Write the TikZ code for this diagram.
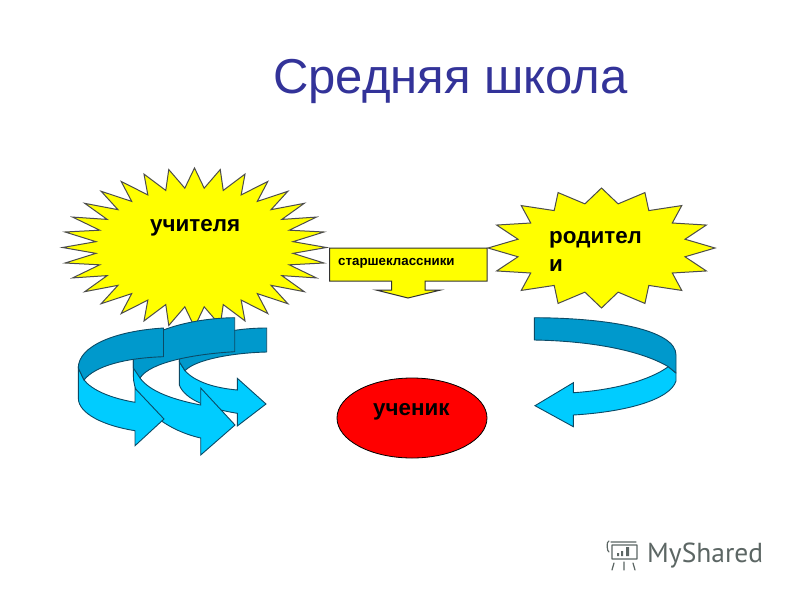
\documentclass[tikz,border=0pt]{standalone}
\usepackage{fontspec}
\usetikzlibrary{shapes.geometric}
\setmainfont{Liberation Sans}
\newfontfamily\markfont{PT Sans}
\definecolor{bandDark}{HTML}{0099CC}
\definecolor{bandLight}{HTML}{00CCFF}
\definecolor{bandLine}{HTML}{0B4A66}
\definecolor{titleBlue}{HTML}{333399}
\definecolor{markGrey}{HTML}{5C6664}
\definecolor{sunYellow}{HTML}{FFFF00}
\tikzset{
  burst/.style={draw=black!70,fill=sunYellow,line width=1pt,line join=miter},
  darkband/.style={draw=bandLine,fill=bandDark,line width=0.9pt,line join=round},
  lightband/.style={draw=bandLine,fill=bandLight,line width=0.9pt,line join=miter},
  boldlabel/.style={font=\bfseries\fontsize{22.4}{27}\selectfont,text=black,inner sep=0pt},
  markline/.style={draw=markGrey,line width=1.2pt,line cap=round,line join=round},
}
% centre x, centre y, radius x, radius y, points, last index (2*points-1)
\newcommand{\burstshape}[6]{%
  \path[burst] plot[samples at={0,...,#6},variable=\k]
    ({#1+#3*(0.875+0.125*cos(180*\k))*sin(180*\k/#5)},
     {#2-#4*(0.875+0.125*cos(180*\k))*cos(180*\k/#5)}) -- cycle;}
\begin{document}
\begin{tikzpicture}[x=1pt,y=-1pt]
\useasboundingbox (0,0) rectangle (800,600);
\fill[white] (0,0) rectangle (800,600);

\node[anchor=base west,inner sep=0pt,text=titleBlue,font=\fontsize{49}{52}\selectfont] (title) at (273,93) {Средняя школа};

\burstshape{194.5}{247.5}{132}{79.5}{32}{63}
\burstshape{601.5}{248}{113.5}{60}{16}{31}

% callout
\draw[burst,draw=black!80] (329.5,248) -- (487,248) -- (487,281) -- (425,281) -- (425,290) -- (440.7,290) -- (408,298) -- (376,290) -- (391.7,290) -- (391.7,281) -- (329.5,281) -- cycle;

\node[boldlabel,anchor=base west] (teachers) at (150,231) {учителя};
\node[boldlabel,anchor=base west,align=left] (parents1) at (549,243) {родител};
\node[boldlabel,anchor=base west] (parents2) at (549,271) {и};
\node[anchor=base west,inner sep=0pt,font=\bfseries\fontsize{13.3}{15}\selectfont] (seniors) at (338,265) {старшеклассники};

% third arrow (rearmost)
\draw[lightband] (179.3,361.7) -- (179.3,385) .. controls (185,400) and (210,409) .. (237.3,413.3) -- (237.3,426) -- (266,404) -- (237.3,378.3) -- (237.3,390) .. controls (215,388) and (195,382) .. (185,370.7) -- cycle;
\draw[darkband] (266.7,328) .. controls (225,328) and (179.3,340) .. (179.3,361.7) -- (185,370.7) .. controls (195,360) and (230,353) .. (266.7,352) -- cycle;

% second arrow
\draw[lightband] (133.3,358) -- (133.3,375) .. controls (133.3,405) and (165,430) .. (200.7,438) -- (200.7,455) -- (235,425) -- (200.7,388) -- (200.7,405) .. controls (175,400) and (150,392) .. (140,378) -- cycle;
\draw[darkband] (234.7,317.7) .. controls (190,318) and (133.3,333) .. (133.3,358) -- (133.3,368) -- (140,378) .. controls (150,362) and (195,354) .. (234.7,351.7) -- cycle;

% first arrow (front)
\draw[lightband] (78.3,368) -- (78.3,398) .. controls (78.3,414) and (105,426) .. (135,430.7) -- (135,445.7) -- (164,419) -- (135,388.3) -- (135,402.3) .. controls (110,398) and (92,390) .. (84,380) -- cycle;
\draw[darkband] (163.5,328) .. controls (115,331) and (78.3,346) .. (78.3,368) -- (84,380) .. controls (95,366) and (125,358) .. (163.5,356.7) -- cycle;

% right arrow
\draw[lightband] (676,373) -- (676,381) .. controls (670,400) and (625,412) .. (573.3,415) -- (573.3,426.7) -- (535,405.7) -- (573.3,382.7) -- (573.3,392.7) .. controls (615,390) and (650,380) .. (668.3,366.7) -- cycle;
\draw[darkband] (534.3,317.7) .. controls (610,318) and (676,330) .. (676,355) -- (676,373) -- (668.3,366.7) .. controls (640,350) and (590,341) .. (534.3,340) -- cycle;

% pupil
\node[draw=black,fill=red,ellipse,line width=0.8pt,minimum width=150pt,minimum height=80pt,inner sep=0pt] (pupilshape) at (412,418) {};
\node[boldlabel,anchor=base west] (pupil) at (373,415) {ученик};

% watermark
\draw[markline] (611,542) -- (636,542) (612,545) -- (612,559) -- (637,559) -- (637,545) -- (612,545)
  (609,541) .. controls (606,541) and (607,552) .. (609,552)
  (614,563) -- (612,570) (624,562) -- (624,570) (633,563) -- (635,570);
\fill[markGrey] (617,553) rectangle (619,556) (621,551) rectangle (623,556) (626,547) rectangle (629,556);
\node[anchor=base west,inner sep=0pt,text=markGrey,font=\markfont\fontsize{27.5}{30}\selectfont] (mark) at (647,562) {MyShared};
\end{tikzpicture}
\end{document}
